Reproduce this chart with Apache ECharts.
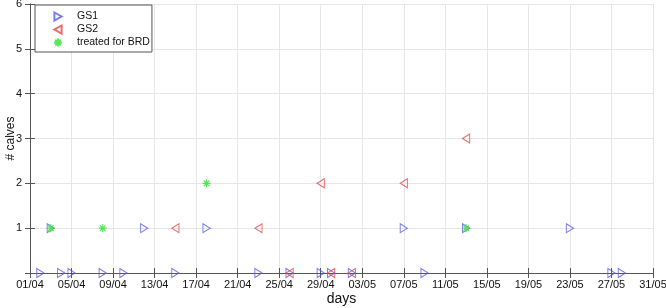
<!DOCTYPE html>
<html>
<head>
<meta charset="utf-8">
<script src="https://cdn.jsdelivr.net/npm/echarts@6/dist/echarts.min.js"></script>
<style>html,body{margin:0;padding:0;background:#fff;}#c{width:666px;height:308px;}</style>
</head>
<body>
<div id="c"></div>
<script>
// Day index: 0 = 01/04, 60 = 31/05
const xTickLabels = ['01/04','05/04','09/04','13/04','17/04','21/04','25/04','29/04','03/05','07/05','11/05','15/05','19/05','23/05','27/05','31/05'];
const yTickLabels = ['', '1', '2', '3', '4', '5', '6'];

const gs1Days   = [1, 3, 4, 7, 9, 14, 22, 25, 28, 29, 31, 38, 56, 57, 2, 11, 17, 36, 42, 52];
const gs1Counts = [0, 0, 0, 0, 0, 0,  0,  0,  0,  0,  0,  0,  0,  0,  1, 1,  1,  1,  1,  1];

const gs2Days   = [14, 22, 28, 36, 42, 25, 29, 31];
const gs2Counts = [1,  1,  2,  2,  3,  0,  0,  0];

const brdDays   = [2, 7, 17, 42];
const brdCounts = [1, 1, 2,  1];

const pair = (xs, ys) => xs.map((x, i) => [x, ys[i]]);

const blue = '#5a5af0', red = '#e64545', green = '#2fe02f';
const rightTri = 'path://M0,0 L9,5 L0,10 Z';
const leftTri = 'path://M9,0 L0,5 L9,10 Z';
const star = 'path://M5,0 L5,10 M0,5 L10,5 M1.5,1.5 L8.5,8.5 M8.5,1.5 L1.5,8.5';

const chart = echarts.init(document.getElementById('c'), null, {renderer: 'canvas'});
const axisLine = {show: true, lineStyle: {color: '#555', width: 1}};
const font = 'Liberation Sans, Arial, sans-serif';
chart.setOption({
  animation: false,
  textStyle: {fontFamily: font},
  grid: {left: 30, right: 13, top: 4, bottom: 35, containLabel: false, outerBoundsMode: 'none'},
  legend: {
    orient: 'vertical', left: 35, top: 5,
    backgroundColor: '#fff', borderColor: '#555', borderWidth: 1,
    padding: [6, 2, 4, 18], itemGap: 2, itemWidth: 28, itemHeight: 8,
    textStyle: {fontSize: 10.5, color: '#111', fontFamily: font},
    data: ['GS1', 'GS2', 'treated for BRD']
  },
  xAxis: [{
    type: 'value', min: 0, max: 60, interval: 4,
    name: 'days', nameLocation: 'middle', nameGap: 19, nameMoveOverlap: false,
    nameTextStyle: {fontSize: 14, color: '#111'},
    axisLine: axisLine,
    axisTick: {show: true, inside: true, length: 5, lineStyle: {color: '#555'}},
    axisLabel: {fontSize: 11, color: '#111', margin: 6, formatter: (v) => xTickLabels[Math.round(v / 4)]},
    splitLine: {show: true, lineStyle: {color: '#e6e6e6'}}
  }, {
    type: 'value', min: 0, max: 60, interval: 4, position: 'top',
    axisLine: axisLine,
    axisTick: {show: true, inside: true, length: 5, lineStyle: {color: '#555'}},
    axisLabel: {show: false}, splitLine: {show: false}
  }],
  yAxis: [{
    type: 'value', min: 0, max: 6, interval: 1,
    name: '# calves', nameLocation: 'middle', nameGap: 13, nameMoveOverlap: false,
    nameTextStyle: {fontSize: 12, color: '#111'},
    axisLine: axisLine,
    axisTick: {show: true, inside: true, length: 5, lineStyle: {color: '#555'}},
    axisLabel: {fontSize: 11, color: '#111', margin: 8, formatter: (v) => yTickLabels[v]},
    splitLine: {show: true, lineStyle: {color: '#e6e6e6'}}
  }, {
    type: 'value', min: 0, max: 6, interval: 1, position: 'right',
    axisLine: axisLine,
    axisTick: {show: true, inside: true, length: 5, lineStyle: {color: '#555'}},
    axisLabel: {show: false}, splitLine: {show: false}
  }],
  series: [{
    name: 'GS1', type: 'scatter', clip: false,
    symbol: rightTri, symbolSize: [8, 9], symbolKeepAspect: true,
    itemStyle: {color: 'rgba(0,0,0,0)', borderColor: blue, borderWidth: 1},
    data: pair(gs1Days, gs1Counts)
  }, {
    name: 'GS2', type: 'scatter', clip: false,
    symbol: leftTri, symbolSize: [8, 9], symbolKeepAspect: true,
    itemStyle: {color: 'rgba(0,0,0,0)', borderColor: red, borderWidth: 1},
    data: pair(gs2Days, gs2Counts)
  }, {
    name: 'treated for BRD', type: 'scatter', clip: false,
    symbol: star, symbolSize: 8, symbolKeepAspect: true,
    itemStyle: {color: 'rgba(0,0,0,0)', borderColor: green, borderWidth: 1.2},
    data: pair(brdDays, brdCounts)
  }]
});
</script>
</body>
</html>
